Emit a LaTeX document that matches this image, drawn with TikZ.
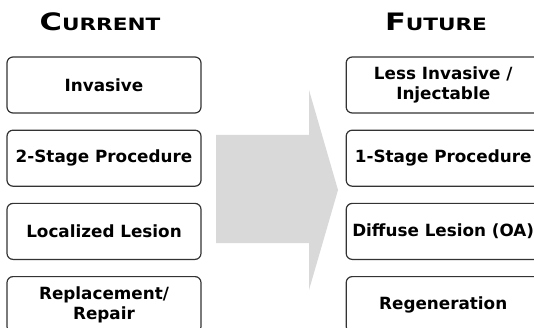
\documentclass[tikz,border=0pt]{standalone}
\usepackage{fontspec}
\setmainfont{DejaVu Sans}
\newfontfamily\headfont[FakeStretch=1.27]{DejaVu Sans Bold}
\usetikzlibrary{positioning}
\definecolor{arrowgray}{HTML}{D9D9D9}
\definecolor{boxline}{HTML}{333333}
\tikzset{
  stagebox/.style={draw=boxline, line width=1.2pt, rounded corners=6pt,
    minimum width=194pt, minimum height=56pt, inner sep=1pt, align=center,
    font=\bfseries\fontsize{16.8}{20}\selectfont},
  heading/.style={anchor=base, inner sep=0pt}
}
\newcommand{\headcaps}[2]{{\fontsize{24}{24}\selectfont #1}{\fontsize{17}{17}\selectfont #2}}

\begin{document}
\begin{tikzpicture}[x=1pt,y=-1pt]
\useasboundingbox (0,0) rectangle (534,328);
% the big grey arrow in the middle
\fill[arrowgray] (216,135) -- (309,135) -- (309,90) -- (338,190)
  -- (309,290) -- (309,243) -- (216,243) -- cycle;
% the two headings
\node[heading] (current) at (100,31) {\headfont\headcaps{C}{URRENT}};
\node[heading] (future) at (436,31) {\headfont\headcaps{F}{UTURE}};
% the current column
\node[stagebox] (inv) at (104,85) {Invasive};
\node[stagebox, below=16pt of inv] (twostage) {2-Stage Procedure};
\node[stagebox, below=16pt of twostage] (local) {Localized Lesion};
\node[stagebox, below=16pt of local] (repair) {Replacement/\\Repair};
% the future column
\node[stagebox, right=144pt of inv] (lessinv) {Less Invasive /\\Injectable};
\node[stagebox, right=144pt of twostage] (onestage) {1-Stage Procedure};
\node[stagebox, right=144pt of local] (diffuse) {Diffuse Lesion (OA)};
\node[stagebox, right=144pt of repair] (regen) {Regeneration};
\end{tikzpicture}
\end{document}
